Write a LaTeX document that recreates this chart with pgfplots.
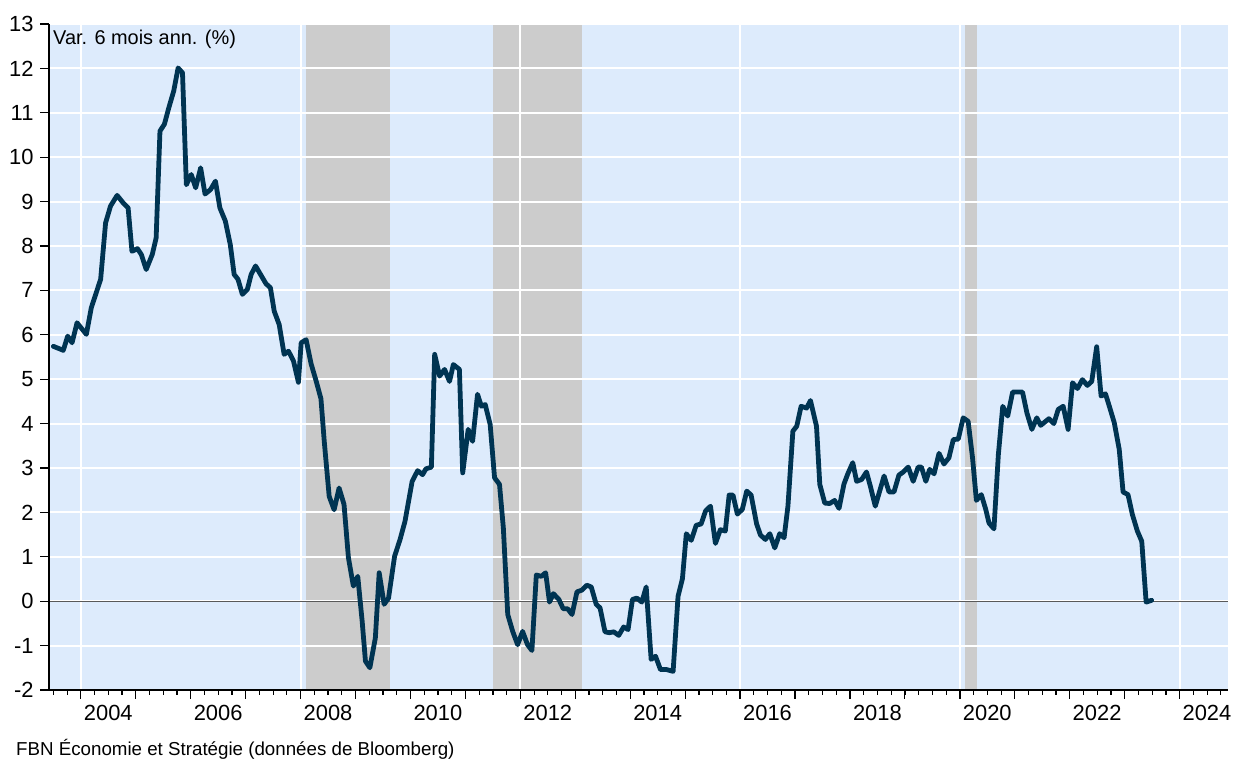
\documentclass[border=0pt]{standalone}
\usepackage{fontspec}
\setmainfont{Liberation Sans}
\usepackage{pgfplots}
\pgfplotsset{compat=1.18}
\definecolor{bgblue}{RGB}{221,235,252}
\definecolor{recgray}{RGB}{204,204,204}
\definecolor{navy}{RGB}{0,52,82}
\pgfdeclarelayer{shade}
\pgfplotsset{
  layers/shadeset/.define layer set={
    axis background,shade,axis grid,axis ticks,pre main,main,axis lines,axis tick labels,axis descriptions,axis foreground
  }{
    /pgfplots/grid style={/pgfplots/on layer=axis grid},
    /pgfplots/tick style={/pgfplots/on layer=axis ticks},
    /pgfplots/axis line style={/pgfplots/on layer=axis lines},
    /pgfplots/label style={/pgfplots/on layer=axis descriptions},
    /pgfplots/legend style={/pgfplots/on layer=axis descriptions},
    /pgfplots/title style={/pgfplots/on layer=axis descriptions},
    /pgfplots/ticklabel style={/pgfplots/on layer=axis tick labels},
    /pgfplots/axis background@ style={/pgfplots/on layer=axis background},
  },
}
\begin{document}
\begin{tikzpicture}
\begin{axis}[
  set layers=shadeset,
  at={(49bp,70bp)}, anchor=south west,
  width=1179bp, height=666bp, scale only axis,
  xmin=2003.42, xmax=2024.88, ymin=-2, ymax=13,
  axis x line*=bottom, axis y line*=left,
  axis line style={-, black, line width=2bp},
  axis background/.style={fill=bgblue},
  xtick={2004,...,2024},
  xticklabels={2004,,2006,,2008,,2010,,2012,,2014,,2016,,2018,,2020,,2022,,2024},
  xticklabel style={xshift=27.45bp, yshift=-3bp},
  yticklabel style={xshift=-3bp},
  minor xtick={2003.5,2003.75,...,2024.75},
  extra x ticks={2004,2008,2012,2016,2020,2024},
  extra x tick labels={},
  extra x tick style={grid=major},
  ytick={-2,-1,...,13},
  ymajorgrids=true, xmajorgrids=false,
  major grid style={white, line width=2bp},
  tick align=outside,
  major tick length=9bp, minor tick length=5bp,
  tick style={black, line width=1.2bp},
  tick label style={font=\fontsize{22}{26}\selectfont, text=black},
  /pgf/number format/assume math mode=true,
  clip=true,
]
% recession shading
\addplot[fill=recgray, draw=none, on layer=shade] coordinates {(2008.09,-2) (2008.09,13) (2009.62,13) (2009.62,-2)} -- cycle;
\addplot[fill=recgray, draw=none, on layer=shade] coordinates {(2011.51,-2) (2011.51,13) (2013.13,13) (2013.13,-2)} -- cycle;
\addplot[fill=recgray, draw=none, on layer=shade] coordinates {(2020.10,-2) (2020.10,13) (2020.31,13) (2020.31,-2)} -- cycle;
% zero line
\addplot[color=black!65, line width=1.3bp] coordinates {(2003.42,0) (2024.88,0)};
% data
\addplot[color=navy, line width=4.8bp, line join=round, line cap=round] coordinates {
(2003.50,5.74) (2003.68,5.65) (2003.76,5.97) (2003.84,5.82) (2003.93,6.27)
(2004.10,6.01) (2004.19,6.61) (2004.36,7.25) (2004.45,8.52) (2004.54,8.90)
(2004.66,9.14) (2004.77,8.97) (2004.86,8.86) (2004.93,7.88) (2005.03,7.94)
(2005.10,7.81) (2005.19,7.47) (2005.30,7.81) (2005.37,8.18) (2005.44,10.59)
(2005.52,10.74) (2005.60,11.11) (2005.69,11.49) (2005.77,12.01) (2005.85,11.90)
(2005.92,9.38) (2006.01,9.61) (2006.09,9.31) (2006.18,9.76) (2006.26,9.17)
(2006.36,9.27) (2006.45,9.46) (2006.53,8.86) (2006.63,8.56) (2006.72,8.03)
(2006.79,7.36) (2006.86,7.25) (2006.94,6.91) (2007.03,7.02) (2007.10,7.36)
(2007.18,7.55) (2007.27,7.36) (2007.37,7.15) (2007.45,7.06) (2007.52,6.53)
(2007.61,6.23) (2007.70,5.56) (2007.78,5.63) (2007.87,5.41) (2007.96,4.93)
(2008.01,5.82) (2008.10,5.89) (2008.19,5.35) (2008.28,4.97) (2008.37,4.56)
(2008.43,3.60) (2008.52,2.36) (2008.61,2.06) (2008.70,2.55) (2008.79,2.18)
(2008.87,0.98) (2008.96,0.34) (2009.04,0.56) (2009.12,-0.45) (2009.18,-1.35)
(2009.26,-1.50) (2009.36,-0.83) (2009.43,0.64) (2009.52,-0.07) (2009.60,0.07)
(2009.71,1.01) (2009.81,1.39) (2009.90,1.80) (2010.03,2.70) (2010.13,2.94)
(2010.22,2.85) (2010.28,2.98) (2010.38,3.02) (2010.44,5.56) (2010.53,5.07)
(2010.62,5.22) (2010.71,4.95) (2010.78,5.33) (2010.89,5.22) (2010.95,2.89)
(2011.05,3.87) (2011.13,3.60) (2011.22,4.66) (2011.29,4.39) (2011.36,4.43)
(2011.45,3.98) (2011.53,2.78) (2011.62,2.63) (2011.69,1.65) (2011.77,-0.30)
(2011.86,-0.68) (2011.95,-0.98) (2012.04,-0.68) (2012.13,-0.98) (2012.21,-1.11)
(2012.29,0.59) (2012.38,0.56) (2012.46,0.64) (2012.53,-0.02) (2012.60,0.17)
(2012.70,0.04) (2012.78,-0.17) (2012.86,-0.17) (2012.94,-0.30) (2013.03,0.21)
(2013.12,0.25) (2013.21,0.36) (2013.29,0.32) (2013.38,-0.07) (2013.45,-0.15)
(2013.54,-0.69) (2013.62,-0.71) (2013.70,-0.69) (2013.79,-0.77) (2013.88,-0.58)
(2013.96,-0.64) (2014.04,0.04) (2014.12,0.07) (2014.21,-0.02) (2014.29,0.32)
(2014.38,-1.31) (2014.46,-1.24) (2014.55,-1.54) (2014.66,-1.54) (2014.78,-1.58)
(2014.87,0.11) (2014.95,0.51) (2015.02,1.52) (2015.11,1.37) (2015.20,1.71)
(2015.29,1.74) (2015.37,2.03) (2015.46,2.14) (2015.55,1.30) (2015.64,1.61)
(2015.73,1.58) (2015.80,2.39) (2015.87,2.39) (2015.95,1.96) (2016.04,2.07)
(2016.12,2.48) (2016.20,2.39) (2016.30,1.74) (2016.37,1.49) (2016.46,1.39)
(2016.54,1.52) (2016.63,1.20) (2016.72,1.52) (2016.80,1.43) (2016.87,2.14)
(2016.96,3.83) (2017.03,3.94) (2017.11,4.39) (2017.21,4.35) (2017.28,4.52)
(2017.39,3.94) (2017.45,2.63) (2017.54,2.21) (2017.63,2.20) (2017.72,2.27)
(2017.80,2.09) (2017.89,2.64) (2017.96,2.87) (2018.05,3.12) (2018.12,2.70)
(2018.21,2.74) (2018.30,2.91) (2018.37,2.59) (2018.46,2.14) (2018.54,2.48)
(2018.62,2.82) (2018.71,2.46) (2018.80,2.46) (2018.89,2.84) (2018.97,2.91)
(2019.06,3.02) (2019.15,2.70) (2019.24,3.02) (2019.30,3.02) (2019.38,2.70)
(2019.45,2.97) (2019.53,2.87) (2019.62,3.33) (2019.71,3.09) (2019.80,3.23)
(2019.88,3.64) (2019.97,3.65) (2020.06,4.13) (2020.15,4.05) (2020.23,3.23)
(2020.30,2.27) (2020.39,2.40) (2020.47,2.07) (2020.53,1.76) (2020.62,1.63)
(2020.70,3.30) (2020.78,4.39) (2020.87,4.17) (2020.96,4.71) (2021.05,4.71)
(2021.14,4.71) (2021.22,4.24) (2021.31,3.87) (2021.40,4.13) (2021.47,3.96)
(2021.56,4.05) (2021.62,4.11) (2021.71,4.00) (2021.79,4.32) (2021.88,4.39)
(2021.97,3.87) (2022.05,4.92) (2022.14,4.79) (2022.23,4.99) (2022.32,4.86)
(2022.40,4.95) (2022.49,5.73) (2022.57,4.62) (2022.65,4.67) (2022.73,4.35)
(2022.81,4.02) (2022.90,3.42) (2022.97,2.46) (2023.06,2.40) (2023.14,1.95)
(2023.23,1.58) (2023.31,1.35) (2023.39,-0.02) (2023.49,0.02)
};
\end{axis}
\node[anchor=base west, inner sep=0pt, font=\fontsize{20}{24}\selectfont] at (53bp,715.7bp) {Var. 6 mois ann. (\%)};
\node[anchor=base west, inner sep=0pt, font=\fontsize{18.8}{23}\selectfont] at (16bp,5bp) {FBN Économie et Stratégie (données de Bloomberg)};
\pgfresetboundingbox
\useasboundingbox (0,0) rectangle (1236bp,760bp);
\end{tikzpicture}
\end{document}
